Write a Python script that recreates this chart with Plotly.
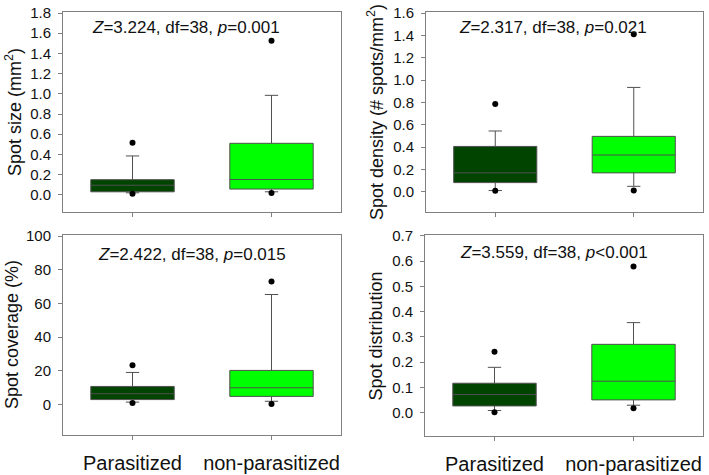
import plotly.graph_objects as go

groups = ["Parasitized", "non-parasitized"]
fills = ["#004400", "#00ff00"]

# Spot size (mm2)
size_q1 = [0.03, 0.057]
size_med = [0.095, 0.152]
size_q3 = [0.15, 0.51]
size_lo = [0.02, 0.03]
size_hi = [0.385, 0.985]
size_out_x = ["Parasitized", "Parasitized", "non-parasitized", "non-parasitized"]
size_out_y = [0.515, 0.01, 1.525, 0.017]

# Spot density (# spots/mm2)
dens_q1 = [0.083, 0.17]
dens_med = [0.17, 0.33]
dens_q3 = [0.407, 0.497]
dens_lo = [0.012, 0.05]
dens_hi = [0.545, 0.935]
dens_out_x = ["Parasitized", "Parasitized", "non-parasitized", "non-parasitized"]
dens_out_y = [0.786, 0.01, 1.41, 0.012]

# Spot coverage (%)
cov_q1 = [3.0, 4.9]
cov_med = [6.5, 10.0]
cov_q3 = [10.8, 20.3]
cov_lo = [1.5, 2.0]
cov_hi = [19.1, 65.3]
cov_out_x = ["Parasitized", "Parasitized", "non-parasitized", "non-parasitized"]
cov_out_y = [23.3, 1.0, 73.0, 0.4]

# Spot distribution
dist_q1 = [0.026, 0.05]
dist_med = [0.071, 0.124]
dist_q3 = [0.116, 0.27]
dist_lo = [0.008, 0.029]
dist_hi = [0.179, 0.356]
dist_out_x = ["Parasitized", "Parasitized", "non-parasitized", "non-parasitized"]
dist_out_y = [0.241, 0.001, 0.578, 0.017]

stats_text = [
    "<i>Z</i>=3.224, df=38, <i>p</i>=0.001",
    "<i>Z</i>=2.317, df=38, <i>p</i>=0.021",
    "<i>Z</i>=2.422, df=38, <i>p</i>=0.015",
    "<i>Z</i>=3.559, df=38, <i>p</i>&lt;0.001",
]
y_titles = [
    "Spot size (mm<sup>2</sup>)",
    "Spot density (# spots/mm<sup>2</sup>)",
    "Spot coverage (%)",
    "Spot distribution",
]

W, H = 709, 475
FONT = "Liberation Sans, Arial, sans-serif"


def fx(px):
    return px / W


def fy(py):
    return 1 - py / H


panels = [
    dict(q1=size_q1, med=size_med, q3=size_q3, lo=size_lo, hi=size_hi,
         ox=size_out_x, oy=size_out_y, px=(63, 341), py=(12, 212),
         yr=[-0.17, 1.81], dt=0.2, fmt=".1f", ann=(186, 27), tx=13),
    dict(q1=dens_q1, med=dens_med, q3=dens_q3, lo=dens_lo, hi=dens_hi,
         ox=dens_out_x, oy=dens_out_y, px=(426, 703), py=(12, 212),
         yr=[-0.18, 1.61], dt=0.2, fmt=".1f", ann=(553, 27), tx=375),
    dict(q1=cov_q1, med=cov_med, q3=cov_q3, lo=cov_lo, hi=cov_hi,
         ox=cov_out_x, oy=cov_out_y, px=(63, 341), py=(235, 435),
         yr=[-18, 100.6], dt=20, fmt="d", ann=(192, 254), tx=12),
    dict(q1=dist_q1, med=dist_med, q3=dist_q3, lo=dist_lo, hi=dist_hi,
         ox=dist_out_x, oy=dist_out_y, px=(425, 703), py=(235, 436),
         yr=[-0.093, 0.703], dt=0.1, fmt=".1f", ann=(554, 252), tx=375),
]

fig = go.Figure()
annotations = []
layout = {}
for i, p in enumerate(panels):
    n = "" if i == 0 else str(i + 1)
    xa, ya = "x" + n, "y" + n
    for j, g in enumerate(groups):
        fig.add_trace(go.Box(
            x=[g], q1=[p["q1"][j]], median=[p["med"][j]], q3=[p["q3"][j]],
            lowerfence=[p["lo"][j]], upperfence=[p["hi"][j]],
            fillcolor=fills[j], line=dict(color="#505050", width=1),
            width=0.6, whiskerwidth=0.16, boxpoints=False,
            xaxis=xa, yaxis=ya, showlegend=False, hoverinfo="skip"))
    fig.add_trace(go.Scatter(
        x=p["ox"], y=p["oy"], mode="markers",
        marker=dict(color="black", size=6), xaxis=xa, yaxis=ya,
        showlegend=False, hoverinfo="skip"))
    bottom = i >= 2
    layout["xaxis" + n] = dict(
        domain=[fx(p["px"][0]), fx(p["px"][1])], anchor=ya,
        type="category", categoryorder="array", categoryarray=groups,
        range=[-0.5, 1.5], showgrid=False, zeroline=False, automargin=False,
        showline=True, linecolor="#808080", linewidth=1, mirror=True,
        ticks="outside", ticklen=4, tickcolor="#808080",
        showticklabels=bottom, ticklabelstandoff=6,
        tickfont=dict(family=FONT, size=20, color="#111111"))
    layout["yaxis" + n] = dict(
        domain=[fy(p["py"][1]), fy(p["py"][0])], anchor=xa,
        range=p["yr"], dtick=p["dt"], tick0=0, tickformat=p["fmt"],
        showgrid=False, zeroline=False, automargin=False,
        showline=True, linecolor="#808080", linewidth=1, mirror=True,
        ticks="outside", ticklen=4, tickcolor="#808080",
        ticklabelstandoff=4,
        tickfont=dict(family=FONT, size=15, color="#111111"))
    annotations.append(dict(
        text=stats_text[i], xref="paper", yref="paper",
        x=fx(p["ann"][0]), y=fy(p["ann"][1]),
        xanchor="center", yanchor="middle", showarrow=False,
        font=dict(family=FONT, size=17, color="#111111")))
    annotations.append(dict(
        text=y_titles[i], xref="paper", yref="paper",
        x=fx(p["tx"]), y=fy((p["py"][0] + p["py"][1]) / 2),
        xanchor="center", yanchor="middle", textangle=-90, showarrow=False,
        font=dict(family=FONT, size=18, color="#111111")))

fig.update_layout(
    width=W, height=H, margin=dict(l=0, r=0, t=0, b=0),
    paper_bgcolor="white", plot_bgcolor="white",
    annotations=annotations, **layout)

# remove the default 8px page margin so the figure fills the window exactly
fig.write_html("out.html",
               config={"displayModeBar": False, "staticPlot": True},
               post_script="document.body.style.margin='0px';"
                           "document.body.style.overflow='hidden';")
